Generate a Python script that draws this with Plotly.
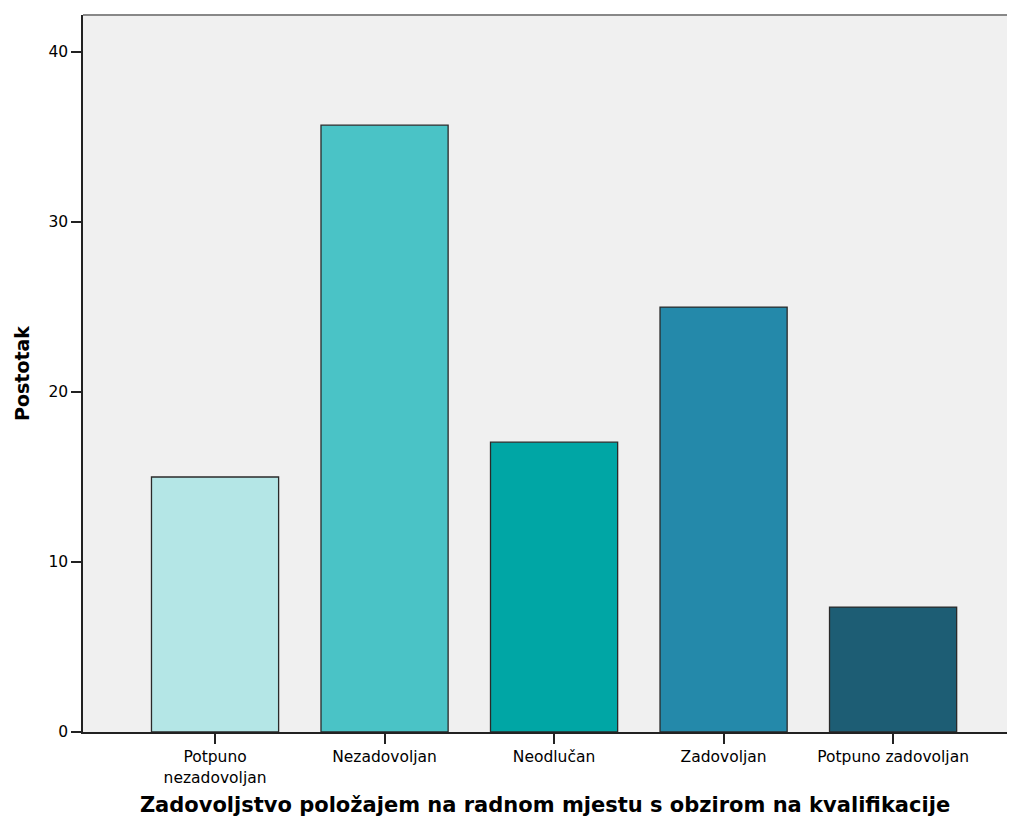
import plotly.graph_objects as go

categories = ["Potpuno<br>nezadovoljan", "Nezadovoljan", "Neodlučan", "Zadovoljan", "Potpuno zadovoljan"]
values = [15.0, 35.7, 17.05, 25.0, 7.35]
colors = ["#b4e6e6", "#4ac3c6", "#00a6a5", "#2489aa", "#1d5d74"]
y_ticks = [0, 10, 20, 30, 40]

fig = go.Figure()
fig.add_trace(go.Bar(
    x=list(range(len(categories))), y=values,
    marker=dict(color=colors, line=dict(color="#2a2a2a", width=1.3)),
    width=0.75,
))

fig.update_layout(
    width=999, height=809,
    margin=dict(l=75, r=0, t=7, b=85),
    paper_bgcolor="white", plot_bgcolor="#f0f0f0",
    showlegend=False,
    font=dict(family="DejaVu Sans", size=15, color="#000"),
    shapes=[dict(type="line", xref="paper", yref="paper", x0=0, x1=1, y0=1, y1=1,
                 line=dict(color="#888888", width=2))],
)
fig.update_xaxes(
    range=[-0.779, 4.672], tickmode="array", tickvals=list(range(len(categories))),
    ticktext=categories, ticks="outside", ticklen=10, tickcolor="#222", tickwidth=1.5,
    showline=True, linecolor="#222", linewidth=1.5, showgrid=False, zeroline=False,
    tickfont=dict(size=15.5, family="DejaVu Sans"),
    title=dict(text="<b>Zadovoljstvo položajem na radnom mjestu s obzirom na kvalifikacije</b>",
               font=dict(size=21, family="DejaVu Sans"), standoff=16),
)
fig.update_yaxes(
    range=[0, 42.18], tickvals=y_ticks, ticks="outside", ticklen=10, tickcolor="#222", tickwidth=1.5,
    showline=True, linecolor="#222", linewidth=1.5, showgrid=False, zeroline=False,
    tickfont=dict(size=15.5, family="DejaVu Sans"),
    title=dict(text="<b>Postotak</b>", font=dict(size=19, family="DejaVu Sans"), standoff=14),
)

fig.write_html("out.html")
